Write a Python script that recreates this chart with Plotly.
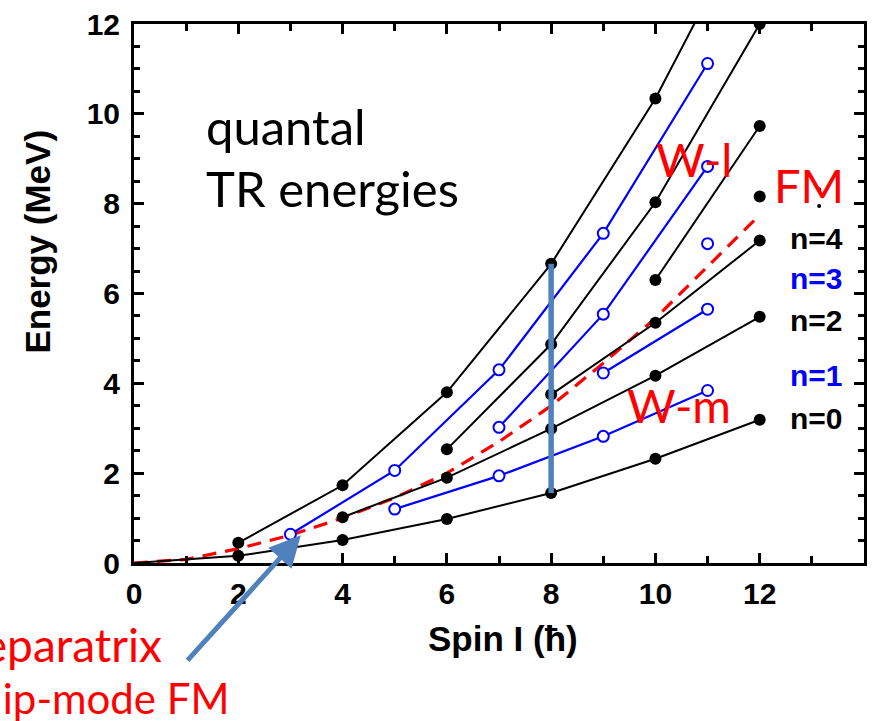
import plotly.graph_objects as go

# ---------------- data ----------------
# even-spin sequences (black, filled dots)
n0_I = [0, 2, 4, 6, 8, 10, 12]
n0_E = [0.0, 0.16, 0.51, 0.98, 1.56, 2.32, 3.19]
n2_I = [4, 6, 8, 10, 12]
n2_E = [1.02, 1.90, 2.99, 4.17, 5.48]
n4_I = [8, 10, 12]
n4_E = [3.75, 5.35, 7.18]
topA_I = [2, 4, 6, 8, 10, 12]
topA_E = [0.45, 1.73, 3.80, 6.66, 10.34, 14.8]
topB_I = [6, 8, 10, 12]
topB_E = [2.53, 4.87, 8.03, 12.0]
topC_I = [10, 12]
topC_E = [6.30, 9.73]
single_I = [12]
single_E = [8.16]
dots_I = [13.14, 13.14]
dots_E = [8.32, 7.95]

# odd-spin sequences (blue, open circles)
n1_I = [5, 7, 9, 11]
n1_E = [1.20, 1.94, 2.82, 3.84]
n3_I = [9, 11]
n3_E = [4.23, 5.65]
blueA_I = [3, 5, 7, 9, 11]
blueA_E = [0.64, 2.06, 4.30, 7.34, 11.12]
blueB_I = [7, 9, 11]
blueB_E = [3.02, 5.54, 8.83]
blueS_I = [11]
blueS_E = [7.11]

# flip-mode separatrix (red dashed)
fm_I = [0, 1, 2, 3, 4, 5, 6, 7, 8, 9, 10, 11, 12]
fm_E = [0.0, 0.08, 0.32, 0.62, 1.0, 1.45, 2.0, 2.7, 3.5, 4.45, 5.45, 6.6, 7.75]

x_ticks = [0, 2, 4, 6, 8, 10, 12]
x_minor = [1, 3, 5, 7, 9, 11, 13]
y_ticks = [0, 2, 4, 6, 8, 10, 12]
y_minor = [0.5 * k for k in range(0, 25) if k % 4 != 0]

# ---------------- figure ----------------
W, H = 874, 721
ML, MR, MT, MB = 134, 7, 22, 158
PW, PH = W - ML - MR, H - MT - MB


def px(xp, yp):
    return (xp - ML) / PW, (H - MB - yp) / PH


BLACK = "#000000"
BLUE = "#0000FF"
RED = "#FF0000"
STEEL = "#4F81BD"
CAL = "Lato"
ARB = "Liberation Sans"

fig = go.Figure()

fig.add_trace(go.Scatter(x=fm_I, y=fm_E, mode="lines",
                         line=dict(color=RED, width=3.2, dash="14px,9px"),
                         hoverinfo="skip"))


def black(xs, ys, first_marker=True):
    fig.add_trace(go.Scatter(x=xs, y=ys, mode="lines",
                             line=dict(color=BLACK, width=2)))
    mx = xs if first_marker else xs[1:]
    my = ys if first_marker else ys[1:]
    fig.add_trace(go.Scatter(x=mx, y=my, mode="markers",
                             marker=dict(color=BLACK, size=12)))


def blue(xs, ys):
    fig.add_trace(go.Scatter(x=xs, y=ys, mode="lines+markers",
                             line=dict(color=BLUE, width=2.2),
                             marker=dict(color="white", size=11,
                                         line=dict(color=BLUE, width=2))))


black(n0_I, n0_E, first_marker=False)
black(n2_I, n2_E)
black(n4_I, n4_E)
black(topA_I, topA_E)
black(topB_I, topB_E)
black(topC_I, topC_E)
black(single_I, single_E)
fig.add_trace(go.Scatter(x=dots_I, y=dots_E, mode="markers",
                         marker=dict(color=BLACK, size=4)))
blue(n1_I, n1_E)
blue(n3_I, n3_E)
blue(blueA_I, blueA_E)
blue(blueB_I, blueB_E)
blue(blueS_I, blueS_E)

# vertical wobbling bar at I=8 (from n=0 to top sequence)
bar_I = 8
fig.add_shape(type="line", xref="x", yref="y",
              x0=bar_I, x1=bar_I,
              y0=n0_E[n0_I.index(bar_I)], y1=topA_E[topA_I.index(bar_I)],
              line=dict(color=STEEL, width=5.5))

annots = []


def txt(text, xp, yp, size, color, family, xanchor="left", bold=False):
    x, y = px(xp, yp)
    annots.append(dict(text=text, x=x, y=y, xref="paper", yref="paper",
                       xanchor=xanchor, yanchor="middle", showarrow=False,
                       font=dict(size=size, color=color, family=family,
                                 weight="bold" if bold else "normal")))


txt("quantal", 204, 124, 49, BLACK, CAL)
txt("TR energies", 204, 187, 49, BLACK, CAL)
txt("W-l", 656, 158, 47, RED, CAL)
txt("FM", 775, 184, 47, RED, CAL)
txt("W-m", 627, 404, 47, RED, CAL)
txt("Separatrix", 164, 645, 46, RED, CAL, xanchor="right")
txt("flip-mode FM", 232, 699, 42, RED, CAL, xanchor="right")

txt("n=4", 791, 237, 30, BLACK, ARB, bold=True)
txt("n=3", 791, 277, 30, BLUE, ARB, bold=True)
txt("n=2", 791, 320, 30, BLACK, ARB, bold=True)
txt("n=1", 791, 375, 30, BLUE, ARB, bold=True)
txt("n=0", 791, 418, 30, BLACK, ARB, bold=True)

ex, ey = px(37, 240)
annots.append(dict(text="Energy (MeV)", x=ex, y=ey, xref="paper", yref="paper",
                   textangle=-90, showarrow=False, xanchor="center", yanchor="middle",
                   font=dict(size=35, family=ARB, color=BLACK, weight="bold")))
sx, sy = px(505, 639)
annots.append(dict(text="Spin I (ħ)", x=sx, y=sy, xref="paper", yref="paper",
                   showarrow=False, xanchor="center", yanchor="middle",
                   font=dict(size=35, family=ARB, color=BLACK, weight="bold")))

# arrow pointing at the separatrix crossing
annots.append(dict(text="", x=3.2, y=0.62, xref="x", yref="y",
                   ax=1.0, ay=-2.2, axref="x", ayref="y",
                   showarrow=True, arrowhead=2, arrowsize=1.25, arrowwidth=5,
                   arrowcolor=STEEL))

axis_common = dict(showline=True, linewidth=3, linecolor=BLACK, mirror="ticks",
                   ticks="inside", ticklen=10, tickwidth=3, tickcolor=BLACK,
                   showgrid=False, zeroline=False,
                   tickfont=dict(size=30, family=ARB, color=BLACK, weight="bold"))

fig.update_layout(
    width=W, height=H, margin=dict(l=ML, r=MR, t=MT, b=MB),
    paper_bgcolor="white", plot_bgcolor="white", showlegend=False,
    annotations=annots,
    xaxis=dict(range=[0, 14], tickmode="array", tickvals=x_ticks,
               minor=dict(tickmode="array", tickvals=x_minor, ticks="inside",
                          ticklen=7, tickwidth=3, tickcolor=BLACK),
               ticklabelstandoff=2,
               **axis_common),
    yaxis=dict(range=[0, 12], tickmode="array", tickvals=y_ticks,
               minor=dict(tickmode="array", tickvals=y_minor, ticks="inside",
                          ticklen=6, tickwidth=3, tickcolor=BLACK),
               ticklabelstandoff=5,
               **axis_common),
)

fig.write_html("out.html")
